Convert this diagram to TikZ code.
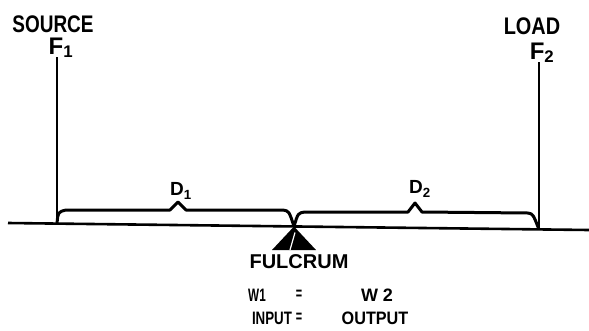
\documentclass[tikz,border=0pt]{standalone}
\usepackage{fontspec}
\setmainfont{Liberation Sans}
\newcommand\narrowtxt[2]{\scalebox{#1}[1]{#2}}
\begin{document}
\begin{tikzpicture}[x=1pt,y=-1pt,
  biglbl/.style={font=\bfseries\fontsize{24}{24}\selectfont, inner sep=0pt},
  lbl/.style={font=\bfseries\fontsize{20}{20}\selectfont, inner sep=0pt},
  dlbl/.style={font=\bfseries\fontsize{19}{19}\selectfont, inner sep=0pt},
  eqlbl/.style={font=\bfseries\fontsize{18}{18}\selectfont, inner sep=0pt},
  lever/.style={line width=2.6pt},
  post/.style={line width=1.8pt},
  bracestyle/.style={line width=3pt, line join=round}]
\useasboundingbox (0,0) rectangle (589,330);
% lever
\coordinate (lvL) at (8,223);
\coordinate (lvR) at (589,230);
\coordinate (srcfoot) at (57,223.6);
\coordinate (loadfoot) at (539,229.5);
\coordinate (pivot) at (294,226.5);
\draw[lever] (lvL) -- (lvR);
% labels
\node[biglbl] (source) at (53,24) {\narrowtxt{0.79}{SOURCE}};
\node[biglbl, anchor=south] (f1) at (61,58) {F$_{\mathbf 1}$};
\node[biglbl] (load) at (532,26) {\narrowtxt{0.83}{LOAD}};
\node[biglbl, anchor=south] (f2) at (542,63) {F$_{\mathbf 2}$};
\draw[post] (57,57) -- (srcfoot);
\draw[post] (539,62) -- (loadfoot);
% braces
\draw[bracestyle] (srcfoot) .. controls (58,212) .. (66,210) -- (170,210) -- (178,202) -- (186,210) -- (283,210) .. controls (289,211) .. (pivot);
\draw[bracestyle] (pivot) .. controls (298,213) .. (305,212) -- (408,212) -- (415,203) -- (422,212) -- (528,213) .. controls (533,214) .. (loadfoot);
\node[dlbl] (d1) at (181,191) {D$_{\mathbf 1}$};
\node[dlbl] (d2) at (420,189) {D$_{\mathbf 2}$};
% fulcrum
\fill (pivot) -- ++(22,23.5) -- ++(-44,0) -- cycle;
\draw[white, line width=1.2pt] (pivot) ++(1,6) -- ++(-5,17.5);
\node[lbl] (fulcrum) at (299,262) {FULCRUM};
% equations
\node[eqlbl] (w1) at (257,295) {\narrowtxt{0.65}{W1}};
\node[eqlbl] (eq1) at (299,295) {\narrowtxt{0.6}{=}};
\node[eqlbl] (w2) at (377,295) {W\kern5pt 2};
\node[eqlbl] (input) at (272,318) {\narrowtxt{0.74}{INPUT}};
\node[eqlbl] (eq2) at (299,318) {\narrowtxt{0.6}{=}};
\node[eqlbl] (output) at (375,318) {\narrowtxt{0.9}{OUTPUT}};
\end{tikzpicture}
\end{document}
